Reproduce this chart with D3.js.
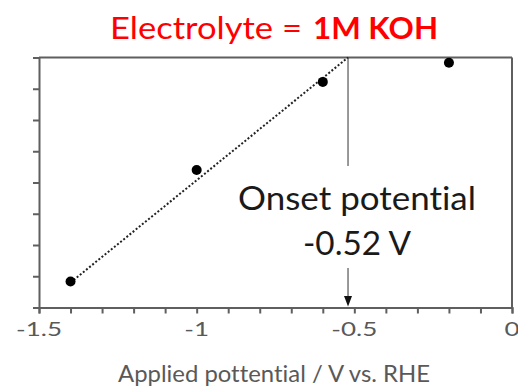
<!DOCTYPE html>
<html><head><meta charset="utf-8">
<script src="https://cdn.jsdelivr.net/npm/d3@7"></script>
<style>body{margin:0;background:#fff}svg{display:block}text{font-variant-ligatures:none;font-feature-settings:"liga" 0}</style>
</head><body>
<svg id="c" width="518" height="389"></svg>
<script>
const potentials = [-1.4, -1.0, -0.6, -0.2];
const signal = [0.83, 4.4, 7.22, 7.83];
const fitLine = [[-1.4, 0.8], [-0.52, 8]];
const onset = -0.52;
const xTickLabels = ["-1.5", "-1", "-0.5", "0"];
const title = ["Electrolyte =", "1M KOH"];
const xTitle = "Applied pottential / V vs. RHE";
const annot = ["Onset potential", "-0.52 V"];

const svg = d3.select("#c");
const x = d3.scaleLinear().domain([-1.5, 0]).range([39, 512]);
const y = d3.scaleLinear().domain([0, 8]).range([307.5, 57.5]);
const axisCol = "#5f5f5f";
const font = "Lato, Carlito, 'Open Sans', sans-serif";

// stretch text horizontally to the reference's width
function fit(sel, w) {
  sel.attr("textLength", w).attr("lengthAdjust", "spacingAndGlyphs");
  return sel;
}
function widen(sel, k) {
  sel.each(function () {
    const len = this.getComputedTextLength();
    d3.select(this).attr("textLength", len * k).attr("lengthAdjust", "spacingAndGlyphs");
  });
}

// frame top/right
svg.append("line").attr("x1", x(-1.5)).attr("x2", x(0)).attr("y1", y(8)).attr("y2", y(8))
  .attr("stroke", axisCol).attr("stroke-width", 2);
svg.append("line").attr("x1", x(0)).attr("x2", x(0)).attr("y1", y(8)).attr("y2", y(0))
  .attr("stroke", axisCol).attr("stroke-width", 2);

// axes
const xAxis = d3.axisBottom(x).tickValues(d3.range(0, 16).map(i => -1.5 + i * 0.1))
  .tickSize(6).tickFormat("");
const gx = svg.append("g").attr("transform", `translate(0,${y(0)})`).call(xAxis);
gx.selectAll("path,line").attr("stroke", axisCol).attr("stroke-width", 2);

const yAxis = d3.axisLeft(y).ticks(8).tickSize(6).tickFormat("");
const gy = svg.append("g").attr("transform", `translate(${x(-1.5)},0)`).call(yAxis);
gy.selectAll("path,line").attr("stroke", axisCol).attr("stroke-width", 2);

// x labels
const xl = svg.selectAll(".xl").data(xTickLabels).enter().append("text")
  .attr("x", d => x(+d)).attr("y", 336)
  .attr("text-anchor", "middle").attr("font-family", font).attr("font-size", 20)
  .attr("fill", "#595959").text(d => d);
widen(xl, 1.3);

fit(svg.append("text").attr("x", 274).attr("y", 382).attr("text-anchor", "middle")
  .attr("font-family", font).attr("font-size", 22.5).attr("fill", "#595959").text(xTitle), 312);

// fit line
svg.append("path").attr("d", d3.line().x(d => x(d[0])).y(d => y(d[1]))(fitLine))
  .attr("fill", "none").attr("stroke", "#222").attr("stroke-width", 2).attr("stroke-dasharray", "2,2");

// onset line and arrow
svg.append("line").attr("x1", x(onset)).attr("x2", x(onset)).attr("y1", y(8)).attr("y2", 166)
  .attr("stroke", "#333").attr("stroke-width", 1);
svg.append("line").attr("x1", x(onset)).attr("x2", x(onset)).attr("y1", 268).attr("y2", 297)
  .attr("stroke", "#333").attr("stroke-width", 1);
const ax = x(onset);
svg.append("path").attr("d", `M${ax - 4},296 L${ax + 4},296 L${ax},306.5 Z`).attr("fill", "#111");

// points
svg.selectAll(".pt").data(potentials).enter().append("circle")
  .attr("cx", d => x(d)).attr("cy", (d, i) => y(signal[i])).attr("r", 5).attr("fill", "#000");

// annotation
fit(svg.append("text").attr("x", 238).attr("y", 210)
  .attr("font-family", font).attr("font-size", 33).attr("fill", "#1a1a1a").text(annot[0]), 238);
fit(svg.append("text").attr("x", 303).attr("y", 255)
  .attr("font-family", font).attr("font-size", 33).attr("fill", "#1a1a1a").text(annot[1]), 108);

// title
fit(svg.append("text").attr("x", 110).attr("y", 39)
  .attr("font-family", font).attr("font-size", 31).attr("fill", "#ff0000").text(title[0]), 192);
fit(svg.append("text").attr("x", 313).attr("y", 39).attr("font-weight", "bold")
  .attr("font-family", font).attr("font-size", 31).attr("fill", "#ff0000").text(title[1]), 125);
</script>
</body></html>
